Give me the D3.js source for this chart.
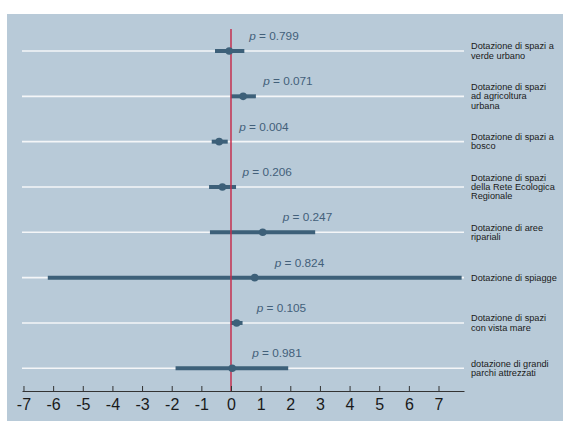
<!DOCTYPE html>
<html>
<head>
<meta charset="utf-8">
<script src="https://cdn.jsdelivr.net/npm/d3@7"></script>
<style>
  html, body { margin: 0; padding: 0; background: #ffffff; }
  svg { display: block; }
  text { font-family: "Liberation Sans", Arial, sans-serif; }
</style>
</head>
<body>
<script>
const categories = [
  ["Dotazione di spazi a", "verde urbano"],
  ["Dotazione di spazi", "ad agricoltura", "urbana"],
  ["Dotazione di spazi a", "bosco"],
  ["Dotazione di spazi", "della Rete Ecologica", "Regionale"],
  ["Dotazione di aree", "ripariali"],
  ["Dotazione di spiagge"],
  ["Dotazione di spazi", "con vista mare"],
  ["dotazione di grandi", "parchi attrezzati"]
];
const estimates = [-0.06, 0.41, -0.40, -0.29, 1.07, 0.80, 0.19, 0.04];
const ciLow    = [-0.54, -0.01, -0.65, -0.74, -0.71, -6.18, -0.01, -1.87];
const ciHigh   = [0.45, 0.84, -0.11, 0.17, 2.84, 7.78, 0.39, 1.93];
const pValues  = ["0.799", "0.071", "0.004", "0.206", "0.247", "0.824", "0.105", "0.981"];
const xTicks   = [-7, -6, -5, -4, -3, -2, -1, 0, 1, 2, 3, 4, 5, 6, 7];

const W = 563, H = 421;
const svg = d3.select("body").append("svg").attr("width", W).attr("height", H);

// panel background
svg.append("rect").attr("x", 7).attr("y", 14).attr("width", W - 7).attr("height", H - 14)
  .attr("fill", "#b8cad8");

const x = d3.scaleLinear().domain([-7.05, 7.86]).range([22, 464]);
const y = d3.scalePoint().domain(d3.range(categories.length)).range([51, 368.3]);
const axisY = 391;

const rows = categories.map((c, i) => ({
  lines: c, est: estimates[i], lo: ciLow[i], hi: ciHigh[i], p: pValues[i], i
}));

// white grid/reference lines per row
svg.append("g").selectAll("line").data(rows).join("line")
  .attr("x1", x.range()[0]).attr("x2", x.range()[1])
  .attr("y1", d => y(d.i)).attr("y2", d => y(d.i))
  .attr("stroke", "#f4f6f8").attr("stroke-width", 1.6);

// CI bars
svg.append("g").selectAll("line").data(rows).join("line")
  .attr("x1", d => x(d.lo)).attr("x2", d => x(d.hi))
  .attr("y1", d => y(d.i)).attr("y2", d => y(d.i))
  .attr("stroke", "#3d6079").attr("stroke-width", 4);

// zero reference line
svg.append("line")
  .attr("x1", x(0)).attr("x2", x(0)).attr("y1", 29).attr("y2", axisY)
  .attr("stroke", "#c4304f").attr("stroke-width", 1.5);

// point estimates
svg.append("g").selectAll("circle").data(rows).join("circle")
  .attr("cx", d => x(d.est)).attr("cy", d => y(d.i)).attr("r", 3.8)
  .attr("fill", "#3d6079");

// p-value labels
const pl = svg.append("g").selectAll("text").data(rows).join("text")
  .attr("x", d => x(d.est) + 20).attr("y", d => y(d.i) - 15)
  .attr("dominant-baseline", "central")
  .attr("font-size", 11.8).attr("fill", "#43607a");
pl.append("tspan").attr("font-style", "italic").text("p");
pl.append("tspan").text(d => " = " + d.p);

// category labels
const lh = 9.3;
const cl = svg.append("g").selectAll("text").data(rows).join("text")
  .attr("x", 471).attr("y", d => y(d.i) - (d.lines.length - 1) * lh / 2)
  .attr("dominant-baseline", "central")
  .attr("font-size", 9.2).attr("fill", "#1a1a1a");
cl.selectAll("tspan").data(d => d.lines).join("tspan")
  .attr("x", 471).attr("dy", (d, j) => j === 0 ? 0 : lh).text(d => d);

// x axis
const axis = d3.axisBottom(x).tickValues(xTicks).tickSize(5).tickSizeOuter(0)
  .tickFormat(d => String(d));
const ag = svg.append("g").attr("transform", `translate(0,${axisY})`);
ag.call(axis);
ag.select(".domain").attr("stroke", "#333").attr("stroke-width", 1);
ag.selectAll(".tick line").attr("stroke", "#333").attr("transform", "translate(0,-5)");
ag.selectAll(".tick text").attr("font-size", 16).attr("fill", "#1a1a1a")
  .attr("font-family", "Liberation Sans, Arial, sans-serif")
  .attr("y", 8).attr("dy", "0.71em");
</script>
</body>
</html>
